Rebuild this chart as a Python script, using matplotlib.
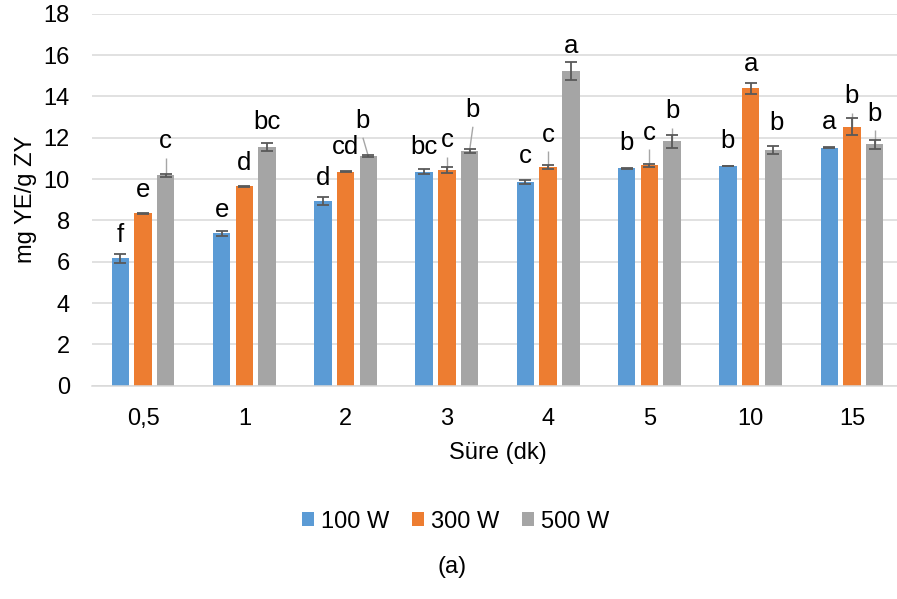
import matplotlib
matplotlib.use("Agg")
import matplotlib.pyplot as plt
from matplotlib.patches import Patch
import numpy as np

plt.rcParams['font.family'] = ['Liberation Sans', 'DejaVu Sans']

# ---------------- data ----------------
categories = ["0,5", "1", "2", "3", "4", "5", "10", "15"]
series_names = ["100 W", "300 W", "500 W"]
w100 = [6.16, 7.37, 8.94, 10.36, 9.85, 10.52, 10.63, 11.52]
w300 = [8.34, 9.65, 10.36, 10.44, 10.58, 10.66, 14.39, 12.53]
w500 = [10.18, 11.57, 11.11, 11.36, 15.22, 11.82, 11.39, 11.68]
err100 = [0.23, 0.13, 0.19, 0.12, 0.08, 0.03, 0.02, 0.02]
err300 = [0.02, 0.02, 0.04, 0.15, 0.09, 0.08, 0.28, 0.42]
err500 = [0.08, 0.19, 0.04, 0.11, 0.45, 0.33, 0.19, 0.22]
lab100 = ["f", "e", "d", "bc", "c", "b", "b", "a"]
lab300 = ["e", "d", "cd", "c", "c", "c", "a", "b"]
lab500 = ["c", "bc", "b", "b", "a", "b", "b", "b"]
yticks = [0, 2, 4, 6, 8, 10, 12, 14, 16, 18]

# ---------------- layout / style ----------------
colors = ["#5B9BD5", "#ED7D31", "#A5A5A5"]
# label baseline lift above error-bar top (data units)
lift100 = [0.58, 0.68, 0.58, 0.73, 0.83, 0.85, 0.84, 0.86]
lift300 = [0.78, 0.77, 0.81, 0.94, 1.13, 1.15, 0.57, 0.71]
lift500 = [1.23, 0.64, 1.30, 1.51, 0.41, 0.79, 0.79, 0.92]
# horizontal label shift (group units)
shift100 = [0] * 8
shift300 = [0] * 8
shift500 = [0, 0, -0.053, 0.033, 0, 0, 0.033, 0]
# whether a leader line is drawn
lead100 = [0] * 8
lead300 = [0, 0, 0, 1, 1, 1, 0, 1]
lead500 = [1, 0, 1, 1, 0, 1, 0, 1]

values = [w100, w300, w500]
errs = [err100, err300, err500]
labels = [lab100, lab300, lab500]
lifts = [lift100, lift300, lift500]
shifts = [shift100, shift300, shift500]
leads = [lead100, lead300, lead500]

W, H = 897, 599
fig = plt.figure(figsize=(W / 100, H / 100), dpi=100)
ax = fig.add_axes([92.4 / W, (H - 385.7) / H, 810.2 / W, 372.0 / H])

x = np.arange(len(categories))
step = 0.224
bw = 0.173
fs_tick = 17
fs_lab = 18.5

for k in range(3):
    xs = x + (k - 1) * step
    ax.bar(xs, values[k], width=bw, color=colors[k], zorder=2, edgecolor='none')
    ax.errorbar(xs, values[k], yerr=errs[k], fmt='none', ecolor='#595959',
                elinewidth=1.3, capsize=4.2, capthick=1.3, zorder=4)
    for i in range(len(categories)):
        top = values[k][i] + errs[k][i]
        ly = top + lifts[k][i]
        lx = xs[i] + shifts[k][i]
        ax.text(lx, ly, labels[k][i], ha='center', va='baseline',
                fontsize=fs_lab, color='black', zorder=5)
        if leads[k][i]:
            ax.plot([lx, xs[i]], [ly - 0.45, values[k][i]], color='#A6A6A6',
                    lw=1.0, zorder=3, solid_capstyle='butt')

ax.set_xlim(-0.5, 7.5)
ax.set_ylim(0, 18)
ax.set_yticks(yticks)
ax.set_yticklabels([str(t) for t in yticks])
ax.set_xticks(x)
ax.set_xticklabels(categories)
ax.tick_params(axis='y', length=0, pad=16.3, labelsize=fs_tick, colors='black')
ax.tick_params(axis='x', length=0, pad=16.0, labelsize=fs_tick, colors='black')
ax.yaxis.grid(True, color='#D9D9D9', lw=1.1, zorder=0)
ax.set_axisbelow(True)
for s in ['left', 'right', 'top']:
    ax.spines[s].set_visible(False)
ax.spines['bottom'].set_color('#D9D9D9')
ax.spines['bottom'].set_linewidth(1.1)

fig.text(26 / W, 1 - 199.7 / H, "mg YE/g ZY", rotation=90, ha='center', va='center',
         fontsize=fs_tick)
fig.text(498 / W, 1 - 453 / H, "Süre (dk)", ha='center', va='center', fontsize=fs_tick)

handles = [Patch(facecolor=c, edgecolor='none') for c in colors]
fig.legend(handles, series_names, loc='center', bbox_to_anchor=(455.5 / W, 1 - 521.5 / H),
           ncol=3, frameon=False, fontsize=fs_tick, handlelength=0.52, handleheight=0.52,
           handletextpad=0.3, columnspacing=0.95, borderpad=0, borderaxespad=0)

fig.text(451.7 / W, 1 - 567 / H, "(a)", ha='center', va='center', fontsize=fs_tick)

fig.savefig("out.png", dpi=100)
